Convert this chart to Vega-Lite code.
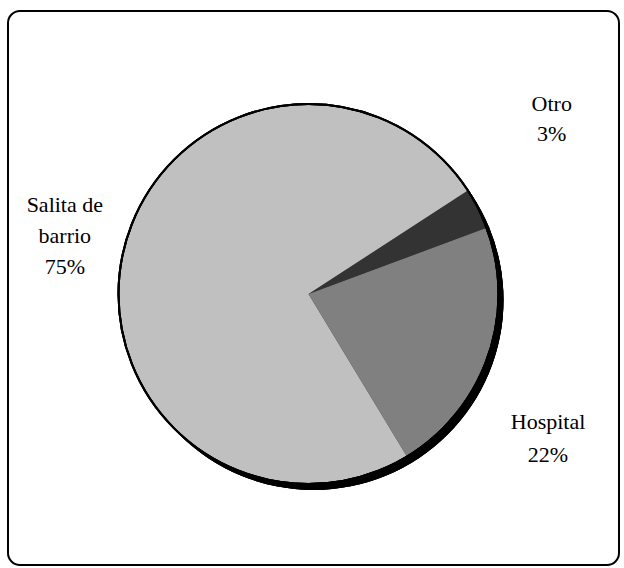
{
  "$schema": "https://vega.github.io/schema/vega-lite/v6.json",
  "width": 611,
  "height": 554,
  "autosize": {"type": "none"},
  "padding": {"left": 8, "top": 11, "right": 5, "bottom": 3},
  "background": "white",
  "view": {"stroke": "black", "strokeWidth": 2, "cornerRadius": 12, "fill": "white"},
  "config": {
    "view": {"stroke": "black", "strokeWidth": 2, "cornerRadius": 12},
    "font": "Liberation Serif"
  },
  "data": {
    "values": [
      {"category": "Otro", "share": 3.5, "label": ["Otro", "3%"], "order": 1},
      {"category": "Hospital", "share": 22, "label": ["Hospital", "22%"], "order": 2},
      {"category": "Salita de barrio", "share": 74.5, "label": ["Salita de", "barrio", "75%"], "order": 3}
    ]
  },
  "layer": [
    {
      "mark": {"type": "arc", "radius": 190, "theta": 0, "theta2": 6.2832, "fill": "black",
        "x": {"expr": "width/2"}, "y": {"expr": "height/2+12"}},
      "encoding": {}
    },
    {
      "mark": {"type": "arc", "radius": 190, "x": {"expr": "width/2-5"}, "y": {"expr": "height/2+6"}},
      "encoding": {
        "theta": {"field": "share", "type": "quantitative", "stack": true, "scale": {"range": [0.995, 7.2782]}},
        "order": {"field": "order", "type": "quantitative"},
        "color": {"field": "category", "type": "nominal", "legend": null,
          "scale": {"domain": ["Otro", "Hospital", "Salita de barrio"], "range": ["#333333", "#808080", "#c0c0c0"]}}
      }
    },
    {
      "mark": {"type": "arc", "radius": 190, "theta": 0, "theta2": 6.2832, "fill": "transparent",
        "stroke": "black", "strokeWidth": 2, "x": {"expr": "width/2-5"}, "y": {"expr": "height/2+6"}},
      "encoding": {}
    },
    {
      "mark": {"type": "text", "radius": 270, "dx": 2, "dy": -69, "fontSize": 22, "lineHeight": 30,
        "align": "center", "baseline": "middle", "x": {"expr": "width/2-5"}, "y": {"expr": "height/2+6"}},
      "encoding": {
        "theta": {"field": "share", "type": "quantitative", "stack": true, "scale": {"range": [0.995, 7.2782]}},
        "order": {"field": "order", "type": "quantitative"},
        "text": {"condition": {"test": "datum.category === 'Otro'", "field": "label"}, "value": ""}
      }
    },
    {
      "mark": {"type": "text", "radius": 260, "dx": -6, "dy": 42, "fontSize": 22, "lineHeight": 33,
        "align": "center", "baseline": "middle", "x": {"expr": "width/2-5"}, "y": {"expr": "height/2+6"}},
      "encoding": {
        "theta": {"field": "share", "type": "quantitative", "stack": true, "scale": {"range": [0.995, 7.2782]}},
        "order": {"field": "order", "type": "quantitative"},
        "text": {"condition": {"test": "datum.category === 'Hospital'", "field": "label"}, "value": ""}
      }
    },
    {
      "mark": {"type": "text", "radius": 250, "dx": 0, "dy": -33, "fontSize": 22, "lineHeight": 31,
        "align": "center", "baseline": "middle", "x": {"expr": "width/2-5"}, "y": {"expr": "height/2+6"}},
      "encoding": {
        "theta": {"field": "share", "type": "quantitative", "stack": true, "scale": {"range": [0.995, 7.2782]}},
        "order": {"field": "order", "type": "quantitative"},
        "text": {"condition": {"test": "datum.category === 'Salita de barrio'", "field": "label"}, "value": ""}
      }
    }
  ]
}
